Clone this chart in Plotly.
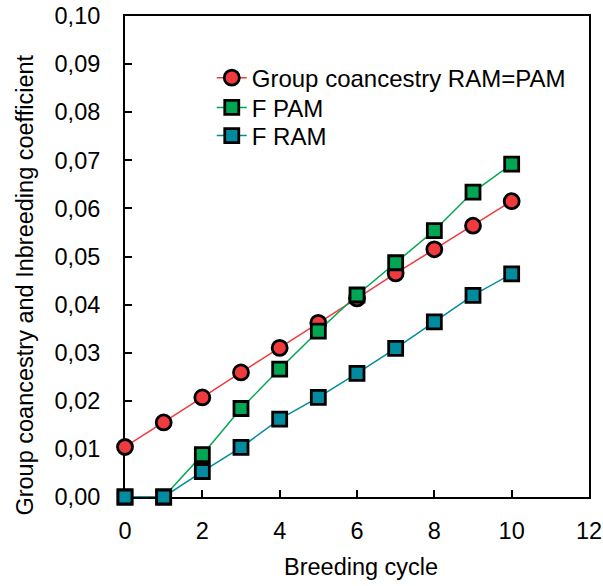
import plotly.graph_objects as go

cycles = [0, 1, 2, 3, 4, 5, 6, 7, 8, 9, 10]
group_coancestry = [0.0104, 0.0155, 0.0207, 0.0259, 0.0310, 0.0362, 0.0413, 0.0465, 0.0515, 0.0564, 0.0615]
f_pam = [0.0, 0.0, 0.0088, 0.0184, 0.0266, 0.0345, 0.0420, 0.0487, 0.0554, 0.0634, 0.0692]
f_ram = [0.0, 0.0, 0.0053, 0.0103, 0.0162, 0.0207, 0.0257, 0.0309, 0.0364, 0.0419, 0.0464]

series_names = ["Group coancestry RAM=PAM", "F PAM", "F RAM"]
y_ticks = [0.00, 0.01, 0.02, 0.03, 0.04, 0.05, 0.06, 0.07, 0.08, 0.09, 0.10]
x_ticks = [0, 2, 4, 6, 8, 10, 12]

FONT = "Liberation Sans, Arial, sans-serif"
FS = 23.5

fig = go.Figure()
fig.add_trace(go.Scatter(
    x=cycles, y=group_coancestry, name=series_names[0], mode="lines+markers",
    line=dict(color="#EF3B3E", width=1.5),
    marker=dict(symbol="circle", size=15, color="#EF3B3E", line=dict(color="black", width=2.8)),
    cliponaxis=False, legend="legend",
))
fig.add_trace(go.Scatter(
    x=cycles, y=f_pam, name=series_names[1], mode="lines+markers",
    line=dict(color="#00A651", width=1.5),
    marker=dict(symbol="square", size=14, color="#00A651", line=dict(color="black", width=2.8)),
    cliponaxis=False, legend="legend2",
))
fig.add_trace(go.Scatter(
    x=cycles, y=f_ram, name=series_names[2], mode="lines+markers",
    line=dict(color="#008BA0", width=1.5),
    marker=dict(symbol="square", size=14, color="#008BA0", line=dict(color="black", width=2.8)),
    cliponaxis=False, legend="legend3",
))

leg_common = dict(x=0.187, xanchor="left", yanchor="middle", bgcolor="rgba(0,0,0,0)",
                  font=dict(family=FONT, size=24), itemsizing="trace")

fig.update_layout(
    width=603, height=586,
    margin=dict(l=125, r=14, t=16, b=89, autoexpand=False),
    paper_bgcolor="white", plot_bgcolor="white",
    separators=", ",
    font=dict(family=FONT, size=FS, color="black"),
    showlegend=True,
    legend=dict(y=0.871, **leg_common),
    legend2=dict(y=0.809, **leg_common),
    legend3=dict(y=0.7505, **leg_common),
    xaxis=dict(
        range=[0, 12], tickvals=x_ticks, ticks="inside", ticklen=7, tickwidth=2,
        tickcolor="black", showline=True, linewidth=2, linecolor="black", mirror=True,
        showgrid=False, zeroline=False, layer="below traces", automargin=False,
        ticklabelstandoff=12,
        tickfont=dict(family=FONT, size=FS),
    ),
    yaxis=dict(
        range=[0, 0.10], tickvals=y_ticks, tickformat=".2f", ticks="inside", ticklen=7,
        tickwidth=2, tickcolor="black", showline=True, linewidth=2, linecolor="black",
        mirror=True, showgrid=False, zeroline=False, layer="below traces", automargin=False,
        ticklabelstandoff=18,
        tickfont=dict(family=FONT, size=FS),
    ),
    annotations=[
        dict(text="Breeding cycle", xref="paper", yref="paper", x=0.5085, y=-0.145,
             xanchor="center", yanchor="middle", showarrow=False,
             font=dict(family=FONT, size=FS)),
        dict(text="Group coancestry and Inbreeding coefficient", xref="paper", yref="paper",
             x=-0.215, y=0.44, xanchor="center", yanchor="middle", textangle=-90,
             showarrow=False, font=dict(family=FONT, size=FS)),
    ],
)

fig.write_html("out.html")
